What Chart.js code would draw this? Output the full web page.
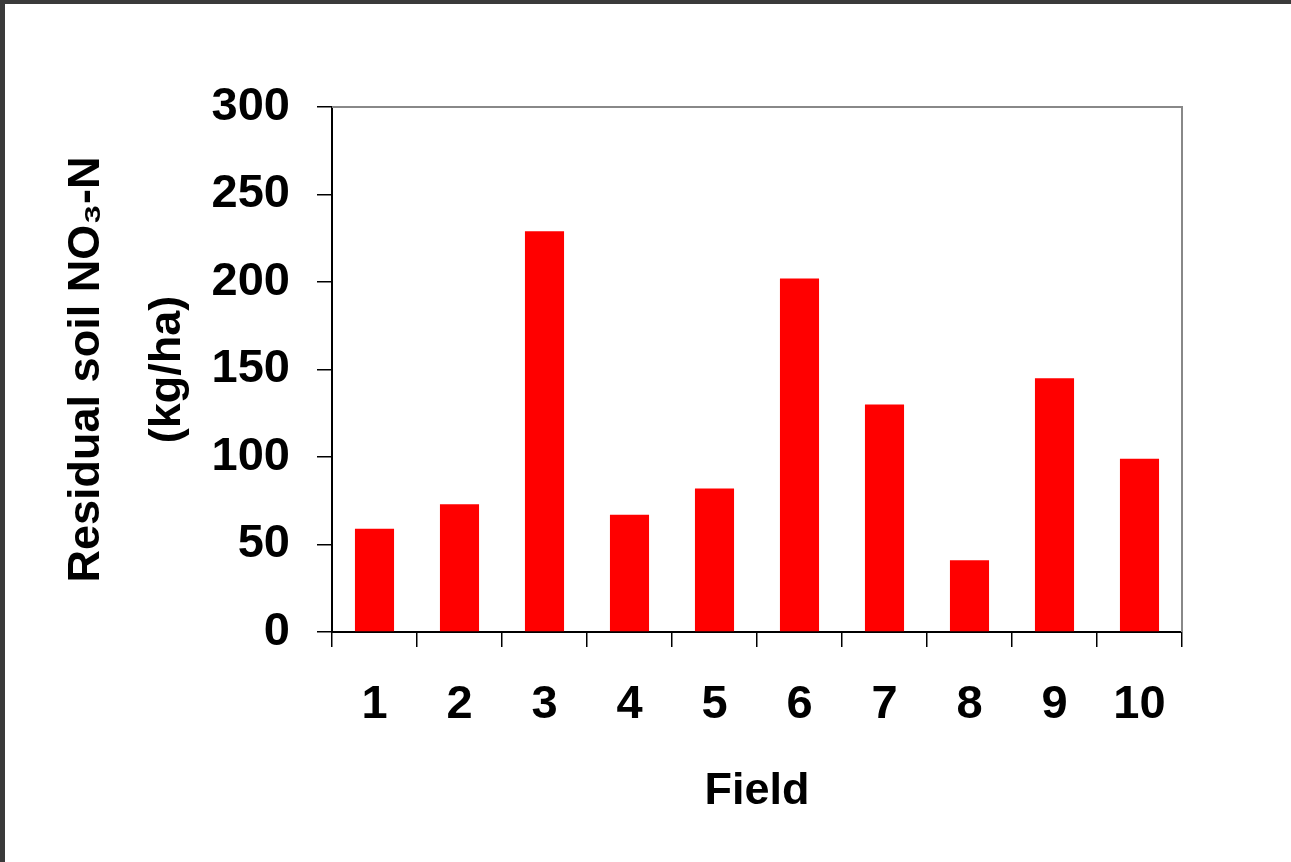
<!DOCTYPE html>
<html lang="en">

<head>
  <meta charset="UTF-8">
  <title>Residual soil NO3-N by field</title>
  <script src="https://cdn.jsdelivr.net/npm/chart.js@4.4.0/dist/chart.umd.min.js"></script>
  <style>
    html,
    body {
      margin: 0;
      padding: 0;
      background: #3a3a3a;
      overflow: hidden;
    }

    .frame {
      position: absolute;
      left: 5px;
      top: 4px;
      width: 1286px;
      height: 858px;
      background: #fff;
    }
  </style>
</head>

<body>
  <div class="frame">
    <canvas id="chartno3" width="1286" height="858"></canvas>
  </div>

  <script>
    // values
    const fields = ['1', '2', '3', '4', '5', '6', '7', '8', '9', '10'];
    const no3 = [59, 73, 229, 67, 82, 202, 130, 41, 145, 99];
    const yTicks = [0, 50, 100, 150, 200, 250, 300];

    const font = "'Liberation Sans', Arial, sans-serif";

    // gray top/right edge of the plot box
    const boxEdge = {
      id: 'boxEdge',
      afterDraw(chart) {
        const a = chart.chartArea;
        const c = chart.ctx;
        c.save();
        c.strokeStyle = '#888';
        c.lineWidth = 2;
        c.beginPath();
        c.moveTo(a.left, a.top);
        c.lineTo(a.right, a.top);
        c.lineTo(a.right, a.bottom);
        c.stroke();
        c.restore();
      }
    };

    var ctx = document.getElementById('chartno3').getContext('2d');
    var chartno3 = new Chart(ctx, {
      type: 'bar',
      data: {
        labels: fields,
        datasets: [{
          data: no3,
          backgroundColor: '#ff0000',
          borderWidth: 0,
          barPercentage: 0.46,
          categoryPercentage: 1
        }]
      },
      options: {
        responsive: false,
        animation: false,
        layout: {
          padding: { top: 103, right: 109, left: 0, bottom: 0 }
        },
        plugins: {
          legend: { display: false },
          tooltip: { enabled: false }
        },
        scales: {
          x: {
            grid: {
              offset: true,
              drawOnChartArea: false,
              color: '#000',
              tickLength: 15,
              lineWidth: 1.5
            },
            border: { color: '#000', width: 2 },
            ticks: {
              color: '#000',
              padding: 30,
              font: { family: font, size: 47, weight: 'bold' }
            },
            title: {
              display: true,
              text: 'Field',
              color: '#000',
              padding: { top: 0, bottom: 43 },
              font: { family: font, size: 45, weight: 'bold' }
            },
            afterFit: function(scale) {
              scale.height = 230;
            }
          },
          y: {
            min: 0,
            max: 300,
            afterBuildTicks: function(scale) {
              scale.ticks = yTicks.map(v => ({ value: v }));
            },
            grid: {
              drawOnChartArea: false,
              color: '#000',
              tickLength: 15,
              lineWidth: 1.5
            },
            border: { color: '#000', width: 2 },
            ticks: {
              color: '#000',
              padding: 27,
              font: { family: font, size: 47, weight: 'bold' }
            },
            title: {
              display: true,
              text: ['Residual soil NO\u2083-N', '(kg/ha)'],
              color: '#000',
              padding: { top: 41, bottom: 0 },
              font: { family: font, size: 45, weight: 'bold', lineHeight: 1.8 }
            },
            afterFit: function(scale) {
              scale.width = 327;
            }
          }
        }
      },
      plugins: [boxEdge]
    });
  </script>
</body>

</html>
